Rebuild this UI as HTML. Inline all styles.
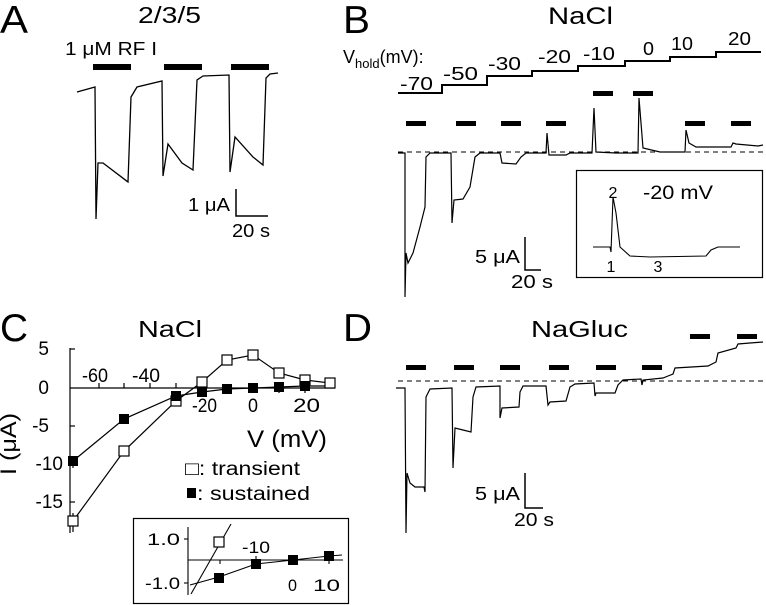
<!DOCTYPE html>
<html><head><meta charset="utf-8"><style>
html,body{margin:0;padding:0;background:#fff;}
svg{display:block;font-family:"Liberation Sans",sans-serif;}
</style></head><body>
<svg width="766" height="605" viewBox="0 0 766 605" xmlns="http://www.w3.org/2000/svg">
<g fill="#000" font-family="Liberation Sans, sans-serif">
<!-- Panel A -->
<text x="0" y="33" font-size="39" textLength="28" lengthAdjust="spacingAndGlyphs">A</text>
<text x="138" y="23" font-size="23" textLength="63" lengthAdjust="spacingAndGlyphs">2/3/5</text>
<text x="65" y="55" font-size="18" textLength="92" lengthAdjust="spacingAndGlyphs">1 μM RF I</text>
<rect x="93" y="64" width="38" height="6"/>
<rect x="164" y="64" width="38" height="6"/>
<rect x="231" y="64" width="38" height="6"/>
<polyline fill="none" stroke="#000" stroke-width="1.3" points="77,92 95,87 96,219 98,163 103,163 128,182 131,97 137,87 162,81 163,176 168,144 182,163 193,170 197,80 203,76 229,75 230,172 235,137 253,157 263,165 266,78 270,74 278,73"/>
<polyline fill="none" stroke="#000" stroke-width="1.5" points="236,189 236,216 268,216"/>
<text x="188" y="211" font-size="18" textLength="42" lengthAdjust="spacingAndGlyphs">1 μA</text>
<text x="232" y="237" font-size="18" textLength="38" lengthAdjust="spacingAndGlyphs">20 s</text>

<!-- Panel B -->
<text x="343" y="33" font-size="39" textLength="27" lengthAdjust="spacingAndGlyphs">B</text>
<text x="548" y="24" font-size="24" textLength="65" lengthAdjust="spacingAndGlyphs">NaCl</text>
<text x="343" y="63" font-size="18">V<tspan font-size="13" dy="5">hold</tspan><tspan dy="-5">(mV):</tspan></text>
<polyline fill="none" stroke="#000" stroke-width="2" points="398,93 442,93 442,85 487,85 487,76 532,76 532,71 578,71 578,66 625,66 625,61 670,61 670,57 716,57 716,52 761,52"/>
<g font-size="18">
<text x="400" y="90" textLength="33" lengthAdjust="spacingAndGlyphs">-70</text>
<text x="443" y="80" textLength="35" lengthAdjust="spacingAndGlyphs">-50</text>
<text x="488" y="70" textLength="33" lengthAdjust="spacingAndGlyphs">-30</text>
<text x="538" y="63" textLength="33" lengthAdjust="spacingAndGlyphs">-20</text>
<text x="583" y="60" textLength="32" lengthAdjust="spacingAndGlyphs">-10</text>
<text x="643" y="55" textLength="11" lengthAdjust="spacingAndGlyphs">0</text>
<text x="671" y="50" textLength="22" lengthAdjust="spacingAndGlyphs">10</text>
<text x="728" y="45" textLength="23" lengthAdjust="spacingAndGlyphs">20</text>
</g>
<rect x="406" y="121" width="20" height="5"/><rect x="456" y="121" width="20" height="5"/>
<rect x="501" y="121" width="20" height="5"/><rect x="546" y="121" width="20" height="5"/>
<rect x="685" y="121" width="20" height="5"/><rect x="731" y="121" width="20" height="5"/>
<rect x="593" y="91" width="20" height="5"/><rect x="633" y="91" width="20" height="5"/>
<line x1="398" y1="152" x2="763" y2="152" stroke="#000" stroke-width="1" stroke-dasharray="5,4"/>
<polyline fill="none" stroke="#000" stroke-width="1.2" points="398,153 405,153 405,297 406,253 408,263 413,253 420,227 425,207 426,157 430,153 451,153 452,223 454,200 463,199 470,187 475,157 480,153 500,153 502,163 516,164 521,157 526,153 546,153 547,133 549,155 566,155 570,153 592,153 594,108 596,152 616,153 638,153 639,98 643,148 660,152 685,152 686,130 689,143 696,147 731,147 733,143 736,144 758,146 763,145"/>
<polyline fill="none" stroke="#000" stroke-width="1.5" points="525,237 525,270 541,270"/>
<text x="475" y="263" font-size="18" textLength="45" lengthAdjust="spacingAndGlyphs">5 μA</text>
<text x="511" y="288" font-size="18" textLength="42" lengthAdjust="spacingAndGlyphs">20 s</text>
<rect x="576.5" y="170.5" width="186" height="107" fill="none" stroke="#000" stroke-width="1.2"/>
<polyline fill="none" stroke="#000" stroke-width="1.1" points="593,247 610,247 611,252 613,197 616,213 620,247 630,256 650,257 706,256 711,250 718,247 740,247"/>
<text x="613" y="198" font-size="16" text-anchor="middle">2</text>
<text x="611" y="272" font-size="16" text-anchor="middle">1</text>
<text x="658" y="272" font-size="16" text-anchor="middle">3</text>
<text x="643" y="199" font-size="19" textLength="70" lengthAdjust="spacingAndGlyphs">-20 mV</text>

<!-- Panel C -->
<text x="0" y="341" font-size="39" textLength="28" lengthAdjust="spacingAndGlyphs">C</text>
<text x="138" y="337" font-size="23" textLength="64" lengthAdjust="spacingAndGlyphs">NaCl</text>
<g stroke="#000" stroke-width="1.2" fill="none">
<line x1="70" y1="348" x2="70" y2="533"/>
<line x1="70" y1="388" x2="335" y2="388"/>
<line x1="70" y1="349" x2="75" y2="349"/><line x1="70" y1="426" x2="75" y2="426"/>
<line x1="70" y1="464" x2="75" y2="464"/><line x1="70" y1="502" x2="75" y2="502"/>
<line x1="99" y1="388" x2="99" y2="383"/><line x1="124" y1="388" x2="124" y2="383"/>
<line x1="150" y1="388" x2="150" y2="383"/><line x1="176" y1="388" x2="176" y2="383"/>
<line x1="202" y1="388" x2="202" y2="393"/><line x1="227" y1="388" x2="227" y2="393"/>
<line x1="253" y1="388" x2="253" y2="393"/><line x1="279" y1="388" x2="279" y2="393"/>
<line x1="305" y1="388" x2="305" y2="393"/>
<polyline points="73,521 124,451 176,401 202,382 227,360 253,355 279,373 305,380 330,383"/>
<polyline points="73,461 124,419 176,396 202,392 227,389 253,388 279,387 305,386 330,386"/>
<line x1="73" y1="456" x2="73" y2="468"/><line x1="73" y1="513" x2="73" y2="532"/>
</g>
<g stroke="#000" stroke-width="1.2" fill="#fff">
<rect x="68" y="516" width="10" height="10"/><rect x="119" y="446" width="10" height="10"/>
<rect x="171" y="396" width="10" height="10"/><rect x="197" y="377" width="10" height="10"/>
<rect x="222" y="355" width="10" height="10"/><rect x="248" y="350" width="10" height="10"/>
<rect x="274" y="368" width="10" height="10"/><rect x="300" y="375" width="10" height="10"/>
<rect x="325" y="378" width="10" height="10"/>
</g>
<g fill="#000">
<rect x="68" y="456" width="10" height="10"/><rect x="119" y="414" width="10" height="10"/>
<rect x="171" y="391" width="10" height="10"/><rect x="197" y="387" width="10" height="10"/>
<rect x="222" y="384" width="10" height="10"/><rect x="248" y="383" width="10" height="10"/>
<rect x="274" y="382" width="10" height="10"/><rect x="300" y="381" width="10" height="10"/>
</g>
<g font-size="19" text-anchor="end">
<text x="49" y="355">5</text><text x="49" y="394">0</text><text x="49" y="432">-5</text>
<text x="63" y="470">-10</text><text x="63" y="508">-15</text>
</g>
<g font-size="19">
<text x="82" y="382" textLength="26" lengthAdjust="spacingAndGlyphs">-60</text>
<text x="132" y="382" textLength="28" lengthAdjust="spacingAndGlyphs">-40</text>
<text x="192" y="412" textLength="25" lengthAdjust="spacingAndGlyphs">-20</text>
<text x="248" y="412" textLength="10" lengthAdjust="spacingAndGlyphs">0</text>
<text x="293" y="412" textLength="27" lengthAdjust="spacingAndGlyphs">20</text>
</g>
<text x="247" y="447" font-size="24" textLength="80" lengthAdjust="spacingAndGlyphs">V (mV)</text>
<text transform="translate(16,444) rotate(-90)" font-size="22" text-anchor="middle" textLength="62" lengthAdjust="spacingAndGlyphs">I (μA)</text>
<text x="185" y="475" font-size="19" textLength="115" lengthAdjust="spacingAndGlyphs">□: transient</text>
<rect x="187" y="488" width="9" height="10"/>
<text x="197" y="500" font-size="19" textLength="113" lengthAdjust="spacingAndGlyphs">: sustained</text>
<rect x="133.5" y="518.5" width="215" height="85" fill="none" stroke="#000" stroke-width="1.2"/>
<g stroke="#000" stroke-width="1.1" fill="none">
<line x1="188" y1="527" x2="188" y2="595"/><line x1="188" y1="560" x2="343" y2="560"/>
<line x1="184" y1="539" x2="188" y2="539"/><line x1="184" y1="583" x2="188" y2="583"/>
<line x1="220" y1="560" x2="220" y2="564"/><line x1="256" y1="560" x2="256" y2="556"/>
<line x1="293" y1="560" x2="293" y2="564"/><line x1="329" y1="560" x2="329" y2="564"/>
<line x1="191" y1="594" x2="231" y2="524"/>
<polyline points="190,585 219,577 256,564 293,560 329,556 342,555"/>
</g>
<rect x="214" y="537" width="10" height="10" fill="#fff" stroke="#000" stroke-width="1.2"/>
<rect x="214" y="573" width="10" height="10"/><rect x="251" y="559" width="10" height="10"/>
<rect x="288" y="555" width="10" height="10"/><rect x="324" y="551" width="10" height="10"/>
<g font-size="17">
<text x="147" y="545" textLength="33" lengthAdjust="spacingAndGlyphs">1.0</text>
<text x="145" y="589" textLength="35" lengthAdjust="spacingAndGlyphs">-1.0</text>
<text x="242" y="553" textLength="28" lengthAdjust="spacingAndGlyphs">-10</text>
<text x="288" y="591" textLength="9" lengthAdjust="spacingAndGlyphs">0</text>
<text x="313" y="591" textLength="27" lengthAdjust="spacingAndGlyphs">10</text>
</g>

<!-- Panel D -->
<text x="343" y="341" font-size="39" textLength="29" lengthAdjust="spacingAndGlyphs">D</text>
<text x="531" y="337" font-size="23" textLength="97" lengthAdjust="spacingAndGlyphs">NaGluc</text>
<rect x="406" y="365" width="20" height="5"/><rect x="454" y="365" width="20" height="5"/>
<rect x="500" y="365" width="20" height="5"/><rect x="549" y="365" width="20" height="5"/>
<rect x="596" y="365" width="20" height="5"/><rect x="642" y="365" width="20" height="5"/>
<rect x="690" y="334" width="20" height="5"/><rect x="737" y="334" width="20" height="5"/>
<line x1="398" y1="381" x2="763" y2="381" stroke="#000" stroke-width="1" stroke-dasharray="5,4"/>
<polyline fill="none" stroke="#000" stroke-width="1.2" points="396,388 405,388 406,533 407,473 410,483 415,487 424,487 425,492 426,397 430,389 452,388 453,468 455,428 463,430 471,432 473,397 476,387 500,386 500,418 502,408 519,407 520,392 523,386 546,386 548,405 550,402 566,401 570,387 575,384 594,383 595,396 596,393 615,393 618,385 623,380 641,379 642,385 643,380 663,378 668,376 673,374 675,368 708,366 716,362 718,353 736,348 738,344 750,343 763,342"/>
<polyline fill="none" stroke="#000" stroke-width="1.5" points="525,473 525,508 543,508"/>
<text x="475" y="500" font-size="18" textLength="45" lengthAdjust="spacingAndGlyphs">5 μA</text>
<text x="514" y="526" font-size="18" textLength="40" lengthAdjust="spacingAndGlyphs">20 s</text>
</g>
</svg>
</body></html>
